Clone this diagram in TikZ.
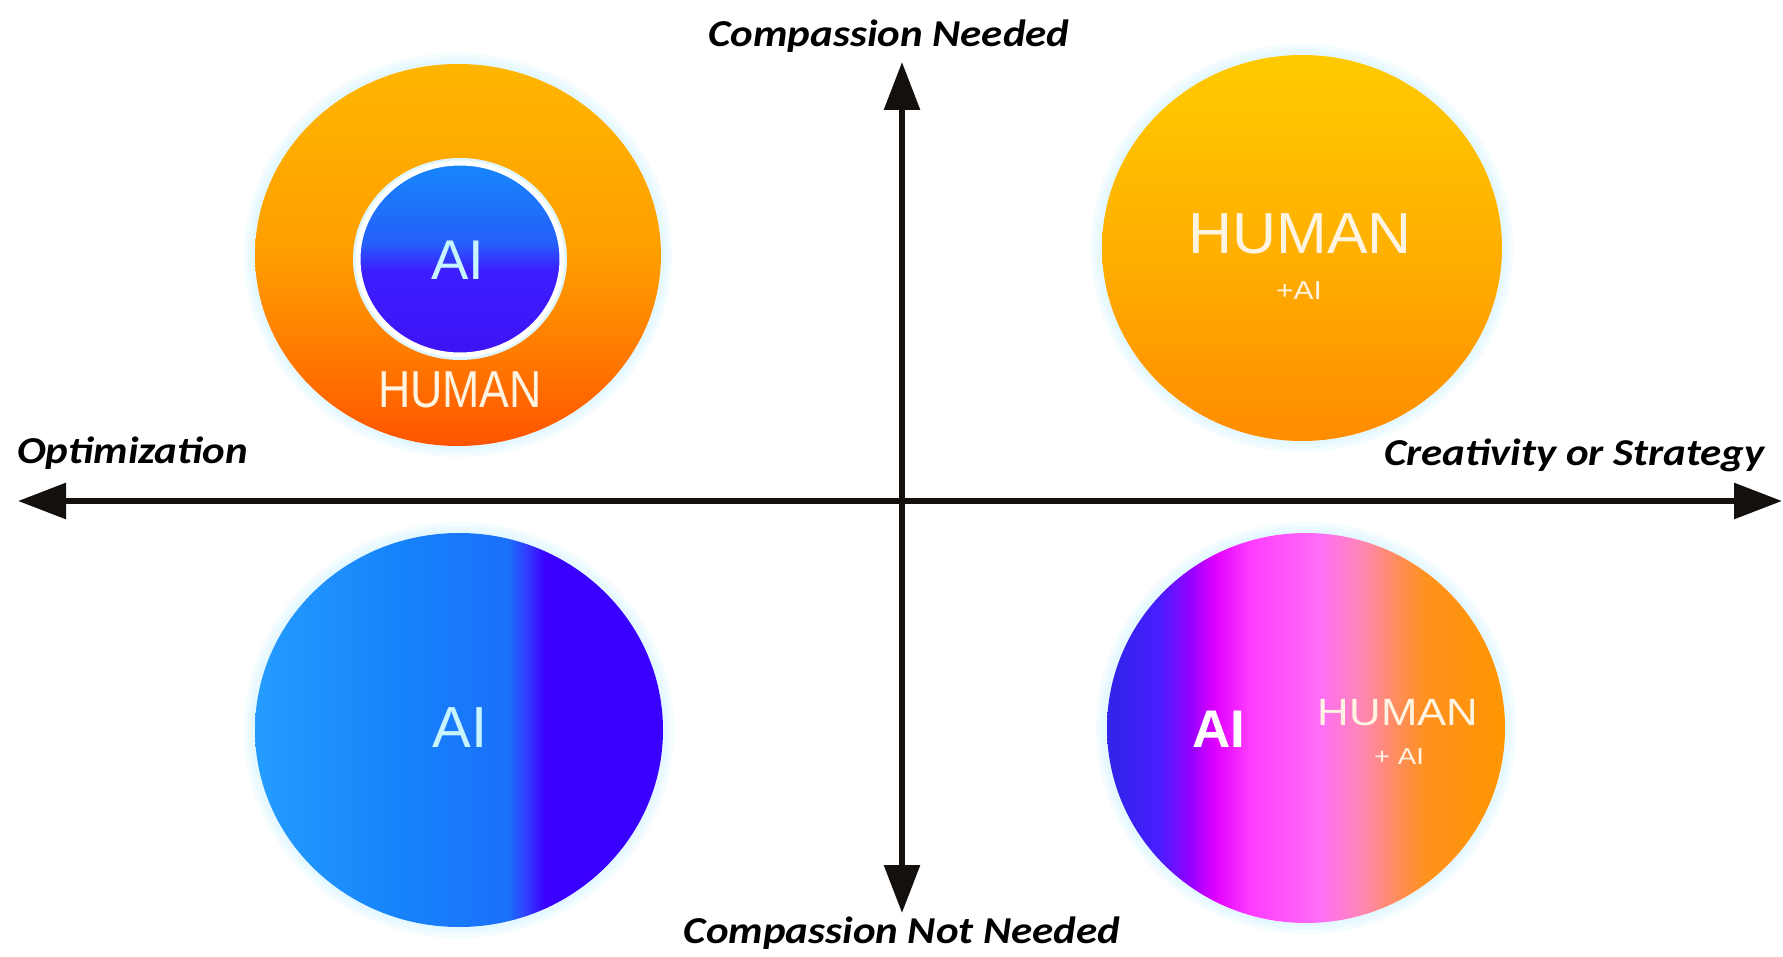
\documentclass[tikz,border=0pt]{standalone}
\usepackage{fontspec}
\setmainfont{Liberation Sans}
\newfontfamily\lblfont[FakeStretch=1.13]{Carlito}
\usetikzlibrary{arrows.meta,shapes.geometric}

\definecolor{tlA}{RGB}{255,182,0}
\definecolor{tlB}{RGB}{255,158,0}
\definecolor{tlC}{RGB}{255,122,0}
\definecolor{tlD}{RGB}{255,84,0}
\definecolor{inA}{RGB}{22,135,250}
\definecolor{inB}{RGB}{38,95,250}
\definecolor{inC}{RGB}{60,30,255}
\definecolor{inD}{RGB}{62,18,245}
\definecolor{trA}{RGB}{255,202,0}
\definecolor{trB}{RGB}{255,176,0}
\definecolor{trC}{RGB}{255,140,0}
\definecolor{blA}{RGB}{36,156,255}
\definecolor{blB}{RGB}{22,132,250}
\definecolor{blC}{RGB}{26,112,250}
\definecolor{blD}{RGB}{50,60,255}
\definecolor{blE}{RGB}{58,0,255}
\definecolor{brA}{RGB}{48,36,232}
\definecolor{brB}{RGB}{72,30,255}
\definecolor{brC}{RGB}{150,0,255}
\definecolor{brD}{RGB}{225,0,255}
\definecolor{brE}{RGB}{255,60,255}
\definecolor{brF}{RGB}{255,112,245}
\definecolor{brG}{RGB}{255,135,180}
\definecolor{brH}{RGB}{255,140,100}
\definecolor{brI}{RGB}{255,145,30}
\definecolor{brJ}{RGB}{255,150,0}
\definecolor{aitext}{RGB}{200,244,255}
\definecolor{humtext}{RGB}{255,244,226}
\definecolor{glow}{RGB}{222,247,255}
\definecolor{axisc}{RGB}{20,16,14}

\pgfdeclareverticalshading{tlshade}{100bp}{color(0bp)=(tlD); color(25bp)=(tlD); color(37bp)=(tlC); color(50bp)=(tlB); color(75bp)=(tlA); color(100bp)=(tlA)}
\pgfdeclareverticalshading{inshade}{100bp}{color(0bp)=(inD); color(25bp)=(inD); color(47bp)=(inC); color(54bp)=(inB); color(75bp)=(inA); color(100bp)=(inA)}
\pgfdeclareverticalshading{trshade}{100bp}{color(0bp)=(trC); color(25bp)=(trC); color(50bp)=(trB); color(75bp)=(trA); color(100bp)=(trA)}
\pgfdeclarehorizontalshading{blshade}{100bp}{color(0bp)=(blA); color(25bp)=(blA); color(42bp)=(blB); color(56bp)=(blC); color(58.3bp)=(blD); color(60.5bp)=(blE); color(75bp)=(blE); color(100bp)=(blE)}
\pgfdeclarehorizontalshading{brshade}{100bp}{color(0bp)=(brA); color(25bp)=(brA); color(31.5bp)=(brB); color(35.5bp)=(brC); color(38.6bp)=(brD); color(43bp)=(brE); color(52bp)=(brF); color(57bp)=(brG); color(61bp)=(brH); color(65bp)=(brI); color(75bp)=(brJ); color(100bp)=(brJ)}

\tikzset{
  disc/.style={ellipse, inner sep=0pt, draw=none},
  halo/.style={ellipse, inner sep=0pt, fill=glow, draw=none, opacity=0.35},
  lbl/.style={font=\lblfont\bfseries\itshape\fontsize{38}{40}\selectfont, text=black, inner sep=0pt},
  axisline/.style={line width=6pt, draw=axisc, -{Triangle[length=48pt,width=35pt]}},
  aiw/.style={text=aitext, inner sep=0pt},
  humw/.style={text=humtext, inner sep=0pt}
}

\begin{document}
\begin{tikzpicture}[x=1pt,y=-1pt]
\useasboundingbox[fill=white] (0,0) rectangle (1783,957);

% soft halos
\foreach \d in {22,14,7}{
  \node[halo, minimum width=406pt+\d pt, minimum height=382pt+\d pt] at (458,255) {};
  \node[halo, minimum width=400pt+\d pt, minimum height=386pt+\d pt] at (1302,248) {};
  \node[halo, minimum width=408pt+\d pt, minimum height=394pt+\d pt] at (459,730) {};
  \node[halo, minimum width=398pt+\d pt, minimum height=390pt+\d pt] at (1306,728) {};
}

% discs
\node[disc, shading=tlshade, minimum width=406pt, minimum height=382pt] (tl) at (458,255) {};
\node[disc, shading=trshade, minimum width=400pt, minimum height=386pt] (tr) at (1302,248) {};
\node[disc, shading=blshade, minimum width=408pt, minimum height=394pt] (bl) at (459,730) {};
\node[disc, shading=brshade, minimum width=398pt, minimum height=390pt] (br) at (1306,728) {};

% inner AI circle
\node[ellipse, inner sep=0pt, fill=glow, minimum width=214pt, minimum height=202pt] (inglow) at (460,259) {};
\node[disc, shading=inshade, draw=white, line width=5pt, minimum width=204pt, minimum height=192pt] (in) at (460,259) {};

% texts
\node[aiw, font=\fontsize{56}{60}\selectfont] (t1) at (458,260) {AI};
\node[humw, font=\fontsize{52}{56}\selectfont] (t2) at (460,390) {\scalebox{0.86}[1]{HUMAN}};
\node[humw, font=\fontsize{58}{62}\selectfont] (t3) at (1300,234) {\scalebox{1.05}[1]{HUMAN}};
\node[humw, font=\fontsize{26}{28}\selectfont] (t4) at (1299,291) {\scalebox{1.15}[1]{+AI}};
\node[aiw, font=\fontsize{58}{62}\selectfont] (t5) at (460,728) {AI};
\node[text=white, inner sep=0pt, font=\bfseries\fontsize{53}{56}\selectfont] (t6) at (1219,729) {AI};
\node[humw, font=\fontsize{38}{40}\selectfont] (t7) at (1398,713) {\scalebox{1.15}[1]{HUMAN}};
\node[humw, font=\fontsize{23}{25}\selectfont] (t8) at (1399,757) {\scalebox{1.2}[1]{+ AI}};

% axes
\coordinate (O) at (902,501);
\coordinate (L) at (18,501);
\coordinate (R) at (1782,501);
\coordinate (T) at (902,62);
\coordinate (B) at (902,913);
\draw[axisline] (O) -- (L);
\draw[axisline] (O) -- (R);
\draw[axisline] (O) -- (T);
\draw[axisline] (O) -- (B);

% axis labels
\node[lbl, anchor=base] (lt) at (889,47) {Compassion Needed};
\node[lbl, anchor=base] (lb) at (902,943) {Compassion Not Needed};
\node[lbl, anchor=base west] (ll) at (17,463) {Optimization};
\node[lbl, anchor=base east] (lr) at (1765,465) {Creativity or Strategy};
\end{tikzpicture}
\end{document}
